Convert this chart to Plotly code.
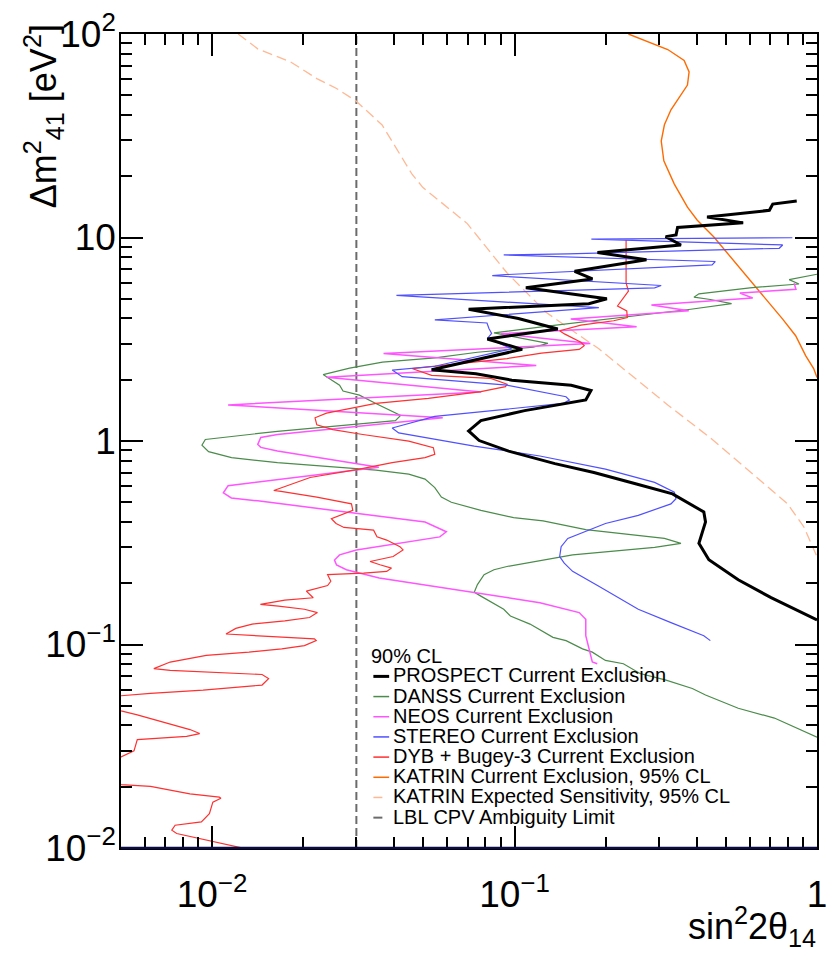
import math
import plotly.graph_objects as go

# ---------------- data: (sin^2 2theta14, dm^2_41 [eV^2]) ----------------
prospect = [(0.857, 15.1), (0.714, 14.6), (0.696, 13.6), (0.433, 12.6), (0.570, 11.8), (0.346, 11.2),
            (0.342, 10.3), (0.316, 10.1), (0.355, 9.19), (0.188, 8.43), (0.273, 7.77), (0.158, 6.82),
            (0.181, 6.26), (0.109, 5.66), (0.202, 5.00), (0.176, 4.73), (0.0705, 4.44), (0.103, 4.00),
            (0.139, 3.55), (0.0813, 3.17), (0.106, 2.82), (0.0532, 2.24), (0.0745, 2.14), (0.098, 1.99),
            (0.154, 1.88), (0.179, 1.77), (0.172, 1.59), (0.108, 1.41), (0.0774, 1.26), (0.0705, 1.12),
            (0.0764, 1.005), (0.0956, 0.892), (0.136, 0.774), (0.183, 0.70), (0.253, 0.615), (0.333, 0.55),
            (0.4225, 0.448), (0.428, 0.40), (0.407, 0.314), (0.439, 0.261), (0.549, 0.208), (0.705, 0.170),
            (1.0, 0.132)]

danss = [(1.0, 6.6), (0.809, 6.21), (0.872, 5.91), (0.789, 5.83), (0.600, 5.66), (0.407, 5.29), (0.392, 5.09),
         (0.444, 4.96), (0.522, 4.73), (0.3825, 4.44), (0.2208, 4.04), (0.134, 3.72), (0.1307, 3.68),
         (0.0855, 3.40), (0.129, 3.02), (0.1153, 2.89), (0.0754, 2.73), (0.0545, 2.56), (0.0366, 2.44),
         (0.0285, 2.28), (0.0233, 2.12), (0.0239, 2.07), (0.0264, 1.88), (0.0271, 1.76), (0.0307, 1.68),
         (0.0348, 1.53), (0.0404, 1.37), (0.042, 1.335), (0.0404, 1.26), (0.0251, 1.18), (0.01645, 1.116),
         (0.0095, 1.017), (0.00926, 0.954), (0.00974, 0.886), (0.0116, 0.828), (0.01645, 0.783),
         (0.0271, 0.74), (0.0348, 0.72), (0.0447, 0.687), (0.0506, 0.65), (0.0545, 0.59), (0.0573, 0.53),
         (0.0618, 0.50), (0.0774, 0.456), (0.0993, 0.42), (0.1243, 0.405), (0.172, 0.367), (0.313, 0.332),
         (0.355, 0.314), (0.2905, 0.30), (0.1556, 0.2757), (0.1125, 0.253), (0.0944, 0.2418),
         (0.0855, 0.233), (0.0793, 0.2204), (0.0754, 0.197), (0.0736, 0.1808), (0.0774, 0.1729),
         (0.0921, 0.149), (0.0969, 0.138), (0.1125, 0.126), (0.134, 0.1084), (0.148, 0.1045),
         (0.1678, 0.0952), (0.1808, 0.0917), (0.1998, 0.0835), (0.229, 0.0804), (0.26, 0.072),
         (0.317, 0.0668), (0.387, 0.0608), (0.428, 0.0565), (0.549, 0.0486), (0.723, 0.0435), (1.0, 0.035)]

neos = [(0.84, 5.96), (0.852, 5.57), (0.556, 5.33), (0.613, 5.04), (0.2835, 4.66), (0.3767, 4.36),
        (0.1534, 3.98), (0.2533, 3.64), (0.0901, 3.37), (0.178, 3.01), (0.0369, 2.69), (0.118, 2.35),
        (0.0239, 2.06), (0.0776, 1.74), (0.0113, 1.504), (0.0579, 1.30), (0.01645, 1.075), (0.01449, 1.04),
        (0.01416, 0.962), (0.0145, 0.93), (0.01645, 0.892), (0.0356, 0.743), (0.0113, 0.603),
        (0.0109, 0.556), (0.01158, 0.525), (0.01416, 0.508), (0.0506, 0.40), (0.0595, 0.358),
        (0.0566, 0.338), (0.0348, 0.3026), (0.030, 0.291), (0.0264, 0.2756), (0.0254, 0.26),
        (0.0258, 0.246), (0.0278, 0.233), (0.0357, 0.2123), (0.0736, 0.1794), (0.1213, 0.1605),
        (0.1636, 0.1435), (0.172, 0.133), (0.172, 0.1105), (0.1808, 0.082), (0.1877, 0.0804)]

stereo = [(0.829, 9.97), (0.1795, 9.82), (0.77, 9.19), (0.75, 8.85), (0.15, 8.31), (0.0921, 8.21),
          (0.461, 7.62), (0.45, 7.34), (0.0933, 6.57), (0.0844, 6.49), (0.3054, 5.81), (0.2905, 5.66),
          (0.0407, 5.19), (0.19, 4.52), (0.0545, 3.94), (0.0811, 3.80), (0.0823, 3.57), (0.084, 3.38),
          (0.0815, 3.20), (0.0978, 2.84), (0.0545, 2.33), (0.0394, 2.23), (0.0425, 2.07), (0.0545, 2.01),
          (0.0945, 1.88), (0.148, 1.65), (0.1518, 1.59), (0.1444, 1.53), (0.0545, 1.32), (0.0394, 1.159),
          (0.0414, 1.096), (0.0736, 0.944), (0.1213, 0.844), (0.1998, 0.727), (0.2905, 0.626),
          (0.3376, 0.56), (0.3418, 0.52), (0.329, 0.491), (0.2565, 0.431), (0.1998, 0.393), (0.1636, 0.351),
          (0.15, 0.332), (0.1426, 0.3026), (0.141, 0.2705), (0.146, 0.251), (0.1556, 0.2287), (0.19, 0.1934),
          (0.2153, 0.1729), (0.2565, 0.149), (0.329, 0.128), (0.4225, 0.1105), (0.444, 0.1045)]

dyb_bugey = [(0.2338, 9.72), (0.2338, 5.98), (0.238, 5.45), (0.219, 4.61), (0.235, 4.36), (0.236, 4.04),
             (0.2127, 3.90), (0.1657, 3.71), (0.141, 3.48), (0.1462, 3.36), (0.1657, 3.06), (0.17, 2.94),
             (0.1636, 2.82), (0.1228, 2.70), (0.0945, 2.54), (0.0519, 2.31), (0.0458, 2.27), (0.0532, 2.10),
             (0.0834, 2.03), (0.0945, 1.90), (0.0933, 1.85), (0.0774, 1.75), (0.0519, 1.62), (0.0348, 1.53),
             (0.0239, 1.37), (0.0219, 1.30), (0.0222, 1.20), (0.0251, 1.137), (0.0315, 1.076),
             (0.0447, 0.998), (0.0539, 0.927), (0.0545, 0.86), (0.0506, 0.828), (0.0394, 0.783),
             (0.0307, 0.727), (0.0211, 0.662), (0.016, 0.571), (0.0169, 0.566), (0.0222, 0.53),
             (0.0289, 0.491), (0.0292, 0.456), (0.0248, 0.415), (0.0257, 0.393), (0.0273, 0.376),
             (0.0342, 0.3646), (0.0351, 0.3384), (0.0378, 0.326), (0.0418, 0.3026), (0.0428, 0.2915),
             (0.0397, 0.2705), (0.0333, 0.2557), (0.0359, 0.2464), (0.0392, 0.2374), (0.0378, 0.2287),
             (0.0317, 0.2245), (0.0241, 0.2204), (0.0247, 0.2045), (0.0241, 0.1949), (0.0213, 0.1863),
             (0.0205, 0.1829), (0.0216, 0.1697), (0.0174, 0.1653), (0.01445, 0.1575), (0.01658, 0.1545),
             (0.0202, 0.149), (0.0223, 0.1435), (0.021, 0.1357), (0.0174, 0.1307), (0.01357, 0.126),
             (0.01198, 0.12), (0.01112, 0.1126), (0.01357, 0.1105), (0.0218, 0.1065), (0.0221, 0.1045),
             (0.0202, 0.0988), (0.017, 0.0952), (0.01324, 0.0917), (0.00957, 0.0884), (0.00727, 0.082),
             (0.00642, 0.0761), (0.00727, 0.0747), (0.01463, 0.0712), (0.01538, 0.068), (0.01463, 0.0632),
             (0.00934, 0.0597), (0.00626, 0.0575), (0.005, 0.056), (0.0042, 0.052), (0.005, 0.0472),
             (0.00566, 0.0451), (0.00642, 0.0427), (0.00675, 0.0419), (0.00845, 0.0382), (0.0091, 0.0365),
             (0.00824, 0.0354), (0.00566, 0.0341), (0.00552, 0.030), (0.005, 0.028), (0.0043, 0.024),
             (0.005, 0.0205), (0.00626, 0.0201), (0.00845, 0.01844), (0.01057, 0.01777), (0.0107, 0.01757),
             (0.01006, 0.0168), (0.0098, 0.01474), (0.00922, 0.01343), (0.00755, 0.01294),
             (0.00736, 0.01223), (0.00764, 0.01178), (0.01006, 0.01073), (0.01275, 0.00996), (0.014, 0.0095)]

katrin = [(0.238, 100), (0.298, 87.8), (0.321, 83.9), (0.3637, 74.2), (0.3777, 65.1), (0.373, 56.1),
          (0.355, 50.1), (0.329, 42.4), (0.313, 35.8), (0.3055, 29.8), (0.3116, 23.8), (0.3375, 18.3),
          (0.373, 14.1), (0.402, 12.15), (0.4554, 10.08), (0.5995, 6.21), (0.77, 3.97), (0.85, 3.29),
          (0.917, 2.63), (0.975, 2.27), (1.0, 2.05)]

katrin_expected = [(0.0122, 100), (0.01416, 84.5), (0.01816, 73), (0.0222, 60.4), (0.0258, 54),
                   (0.030, 46.7), (0.0365, 35.7), (0.0459, 20.4), (0.0498, 17.6), (0.0698, 11.7),
                   (0.0945, 6.69), (0.1274, 4.28), (0.1764, 3.06), (0.19, 2.84), (0.321, 1.504),
                   (0.444, 1.036), (0.67, 0.615), (0.799, 0.491), (0.905, 0.378), (0.975, 0.291), (1.0, 0.27)]

lbl_cpv = [(0.03, 0.01), (0.03, 100)]

x_ticks = [0.01, 0.1, 1]
x_tick_text = ["10<sup>\u22122</sup>", "10<sup>\u22121</sup>", "1"]
y_ticks = [0.01, 0.1, 1, 10, 100]
y_tick_text = ["10<sup>\u22122</sup>", "10<sup>\u22121</sup>", "1", "10", "10<sup>2</sup>"]
x_minor = [m * 10 ** e for e in (-3, -2, -1) for m in range(2, 10) if 0.005 < m * 10 ** e < 1]
y_minor = [m * 10 ** e for e in (-2, -1, 0, 1) for m in range(2, 10)]

# ---------------- styles ----------------
FONT = "Liberation Sans, Arial, Helvetica, sans-serif"
styles = {
    "PROSPECT Current Exclusion": dict(color="black", width=3),
    "DANSS Current Exclusion": dict(color="#4b8b4b", width=1.2),
    "NEOS Current Exclusion": dict(color="#ff55ff", width=1.5),
    "STEREO Current Exclusion": dict(color="#5050ff", width=1.2),
    "DYB + Bugey-3 Current Exclusion": dict(color="#ff3030", width=1.2),
    "KATRIN Current Exclusion, 95% CL": dict(color="#ff6a00", width=1.4),
    "KATRIN Expected Sensitivity, 95% CL": dict(color="#ffb894", width=1.3, dash="10px,5px"),
    "LBL CPV Ambiguity Limit": dict(color="#6b6b6b", width=2, dash="8px,4px"),
}
data_for = {
    "PROSPECT Current Exclusion": prospect,
    "DANSS Current Exclusion": danss,
    "NEOS Current Exclusion": neos,
    "STEREO Current Exclusion": stereo,
    "DYB + Bugey-3 Current Exclusion": dyb_bugey,
    "KATRIN Current Exclusion, 95% CL": katrin,
    "KATRIN Expected Sensitivity, 95% CL": katrin_expected,
    "LBL CPV Ambiguity Limit": lbl_cpv,
}
legend_order = list(styles.keys())
draw_order = ["LBL CPV Ambiguity Limit", "KATRIN Expected Sensitivity, 95% CL",
              "KATRIN Current Exclusion, 95% CL", "DANSS Current Exclusion", "NEOS Current Exclusion",
              "DYB + Bugey-3 Current Exclusion", "STEREO Current Exclusion", "PROSPECT Current Exclusion"]

fig = go.Figure()
for name in draw_order:
    pts = data_for[name]
    fig.add_trace(go.Scatter(x=[p[0] for p in pts], y=[p[1] for p in pts], mode="lines",
                             name=name, line=styles[name], showlegend=False, hoverinfo="skip"))

# ---------------- layout ----------------
# the page body has an 8px margin; keep the whole page inside the 835x961 window
OFF = 8
WIN_W, WIN_H = 835, 961
W, H = WIN_W - 2 * OFF, WIN_H - 2 * OFF       # 819 x 945
L, R, T, B = 121, 827, 25, 848               # plot area in window pixels


def pxx(px):
    return (px - L) / (R - L)


def pxy(py):
    return (B - py) / (B - T)


axis_common = dict(type="log", showline=True, linecolor="black", linewidth=1.5, mirror="allticks",
                   ticks="inside", ticklen=22, tickwidth=1.5, tickcolor="black", showgrid=False,
                   zeroline=False, ticklabeloverflow="allow",
                   tickfont=dict(family=FONT, size=37, color="black"))

fig.update_layout(
    width=W, height=H,
    margin=dict(l=L - OFF, r=W - (R - OFF), t=T - OFF, b=H - (B - OFF), pad=0),
    paper_bgcolor="white", plot_bgcolor="white", showlegend=False,
    xaxis=dict(range=[math.log10(0.005), 0], tickmode="array", tickvals=x_ticks, ticktext=x_tick_text,
               ticklabelstandoff=13,
               minor=dict(tickmode="array", tickvals=x_minor, ticks="inside", ticklen=11, tickwidth=1.5,
                          tickcolor="black", showgrid=False),
               **axis_common),
    yaxis=dict(range=[-2, 2], tickmode="array", tickvals=y_ticks, ticktext=y_tick_text,
               ticklabelstandoff=-4,
               minor=dict(tickmode="array", tickvals=y_minor, ticks="inside", ticklen=11, tickwidth=1.5,
                          tickcolor="black", showgrid=False),
               **axis_common),
)

# dark bottom frame line
fig.add_shape(type="line", xref="paper", yref="paper", x0=0, x1=1, y0=0, y1=0,
              line=dict(color="#0b0b45", width=2.5))

annotations = []
# axis titles
annotations.append(dict(xref="paper", yref="paper", x=pxx(42), y=pxy(13), xanchor="center", yanchor="top",
                        text="\u0394m<sup>2</sup><sub>41</sub> [eV<sup>2</sup>]", textangle=-90, showarrow=False,
                        font=dict(family=FONT, size=36, color="black")))
annotations.append(dict(xref="paper", yref="paper", x=pxx(828), y=pxy(900), xanchor="right", yanchor="top",
                        text="sin<sup>2</sup>2\u03b8<sub>14</sub>", showarrow=False,
                        font=dict(family=FONT, size=36, color="black")))

# manual legend
annotations.append(dict(xref="paper", yref="paper", x=pxx(373), y=pxy(654), xanchor="left", yanchor="middle",
                        text="90% CL", showarrow=False, font=dict(family=FONT, size=20, color="black")))
for i, name in enumerate(legend_order):
    yc = 673.5 + i * 20.4
    st = styles[name]
    fig.add_shape(type="line", xref="paper", yref="paper", x0=pxx(377), x1=pxx(393), y0=pxy(yc + 1),
                  y1=pxy(yc + 1),
                  line=dict(color=st["color"], width=max(st["width"], 1.5),
                            dash="dash" if "dash" in st else "solid"))
    annotations.append(dict(xref="paper", yref="paper", x=pxx(395), y=pxy(yc), xanchor="left",
                            yanchor="middle", text=name, showarrow=False,
                            font=dict(family=FONT, size=20, color="black")))

fig.update_layout(annotations=annotations)
fig.write_html("out.html")
